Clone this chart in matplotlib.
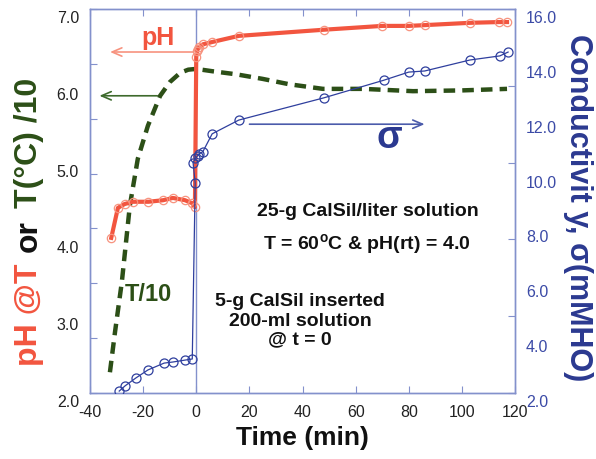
import matplotlib
matplotlib.use("Agg")
import matplotlib.pyplot as plt
import matplotlib.transforms as mtransforms

plt.rcParams['font.family'] = ['Liberation Sans', 'DejaVu Sans']
plt.rcParams['mathtext.fontset'] = 'custom'
plt.rcParams['mathtext.rm'] = 'Liberation Sans:bold'
plt.rcParams['mathtext.bf'] = 'Liberation Sans:bold'

# ---- data ----
ph_time = [-32, -29.5, -27, -24, -18, -12.5, -8.8, -4.2, -1.5, -0.5, 0, 0.3, 0.6, 1, 2.5, 6, 16, 48, 70, 80, 86, 103, 114, 117]
ph_vals = [4.02, 4.41, 4.46, 4.49, 4.49, 4.51, 4.54, 4.51, 4.47, 4.42, 6.38, 6.45, 6.48, 6.50, 6.54, 6.57, 6.65, 6.73, 6.78, 6.78, 6.79, 6.82, 6.83, 6.83]

sig_time = [-29, -26.8, -22.7, -18.2, -12.1, -8.8, -4.2, -1.5, -0.4, -1.2, -0.3, 0.5, 1.2, 2.5, 6, 16, 48, 70.5, 80, 86, 103, 114.3, 117.4]
sig_vals = [2.07, 2.26, 2.55, 2.84, 3.09, 3.13, 3.20, 3.24, 9.66, 10.40, 10.55, 10.65, 10.72, 10.80, 11.45, 11.95, 12.76, 13.40, 13.70, 13.74, 14.14, 14.29, 14.43]

temp_time = [-32.5, -30.6, -28, -25, -22, -18.2, -13.6, -9.9, -6, -3, 0, 6, 15, 25, 35, 47.7, 62.8, 81.6, 100, 117]
temp_vals = [2.27, 2.79, 3.45, 4.44, 5.05, 5.48, 5.87, 6.05, 6.17, 6.21, 6.22, 6.19, 6.15, 6.09, 6.02, 5.96, 5.96, 5.93, 5.94, 5.96]

x_ticks = [-40, -20, 0, 20, 40, 60, 80, 100, 120]
left_ticks = [2.0, 3.0, 4.0, 5.0, 6.0, 7.0]
right_ticks = [2.0, 4.0, 6.0, 8.0, 10.0, 12.0, 14.0, 16.0]

RED = '#f2553f'
RED_LIGHT = '#f7937f'
BLUE = '#2f3f9e'
BLUE_TXT = '#2b3990'
GREEN = '#2c4f17'
SPINE = '#8391cc'

fig = plt.figure(figsize=(5.96, 4.60), dpi=100)
ax = fig.add_axes([90/596, 1-394/460, 425/596, 384/460])
ax2 = ax.twinx()

ax.set_xlim(-40, 120)
ax.set_ylim(2, 7)
ax2.set_ylim(2, 16)

for a in (ax, ax2):
    for s in a.spines.values():
        s.set_color(SPINE)
        s.set_linewidth(1.0)

ax.axvline(0, color=SPINE, lw=1.0, zorder=1)

# T/10 dashed
ax.plot(temp_time, temp_vals, color=GREEN, lw=3.2, ls=(0, (2.6, 1.6)), zorder=2)
# pH
ax.plot(ph_time, ph_vals, color=RED, lw=3.0, marker='o', ms=6, mfc='none',
        mec=RED_LIGHT, mew=0.9, zorder=4)
# conductivity
ax2.plot(sig_time, sig_vals, color=BLUE, lw=0.9, marker='o', ms=6.5, mfc='none',
         mec=BLUE, mew=0.9, zorder=4)

# ticks
ax.set_xticks(x_ticks)
ax.set_xticklabels([str(v) for v in x_ticks], fontsize=11.5, color='#222222')
ax.tick_params(axis='x', direction='in', top=True, bottom=True, length=5, color=SPINE, pad=8)
ax.set_yticks(left_ticks)
ax.set_yticklabels(['%.1f' % v for v in left_ticks], fontsize=11.5, color='#222222')
ax.tick_params(axis='y', direction='in', left=False, right=True, labelleft=True,
               labelright=False, length=5, color=SPINE, pad=8)
ax2.set_yticks(right_ticks)
ax2.set_yticklabels(['%.1f' % v for v in right_ticks], fontsize=11.5, color='#3b4aa6')
ax2.tick_params(axis='y', direction='in', left=True, right=False, labelleft=False,
                labelright=True, length=5, color=SPINE, pad=8)

off = mtransforms.ScaledTranslation(0, -7/100, fig.dpi_scale_trans)
for lab in ax.get_yticklabels() + ax2.get_yticklabels():
    lab.set_transform(lab.get_transform() + off)

ax.set_xlabel('Time (min)', fontsize=19, fontweight='bold', color='#111111', labelpad=4)

# arrows
ax.annotate('', xy=(-33.5, 6.44), xytext=(0, 6.44),
            arrowprops=dict(arrowstyle='->,head_length=0.7,head_width=0.3', color=RED_LIGHT, lw=1.2))
ax.annotate('', xy=(-37.5, 5.87), xytext=(-13.6, 5.87),
            arrowprops=dict(arrowstyle='->,head_length=0.7,head_width=0.3', color='#3d6a2c', lw=1.2))
ax2.annotate('', xy=(87, 11.8), xytext=(19, 11.8),
             arrowprops=dict(arrowstyle='->,head_length=0.7,head_width=0.3', color='#4b5bab', lw=1.2))

ax.text(-14.4, 6.64, 'pH', color=RED, fontsize=18, fontweight='bold', ha='center', va='center')
ax.text(72.6, 5.33, 'σ', color=BLUE_TXT, fontsize=27, fontweight='bold', ha='center', va='center')
ax.text(-18.2, 3.29, 'T/10', color=GREEN, fontsize=17, fontweight='bold', ha='center', va='center')

ax.text(64.7, 4.37, '25-g CalSil/liter solution', fontsize=14, fontweight='bold',
        ha='center', va='center', color='#111111')
ax.text(64.3, 3.94, 'T = 60$^{\\rm o}$C & pH(rt) = 4.0', fontsize=14, fontweight='bold',
        ha='center', va='center', color='#111111')
ax.text(39.1, 2.95, '5-g CalSil inserted\n200-ml solution\n@ t = 0', fontsize=14,
        fontweight='bold', ha='center', va='center', color='#111111', linespacing=1.16,
        multialignment='center')

# left multi-colour y label, laid out piece by piece
pieces = [('pH @T', RED), ('or', '#111111'), ('T(°C) /10', GREEN)]
lab_fs = 23
texts = [fig.text(0, 0, s, rotation=90, color=c, fontsize=lab_fs, fontweight='bold',
                  ha='center', va='center') for s, c in pieces]
fig.canvas.draw()
r = fig.canvas.get_renderer()
gap = 12
lens = [t.get_window_extent(r).height for t in texts]
total = sum(lens) + gap * (len(lens) - 1)
center_px = 460 - 222  # from bottom
start = center_px - total / 2
for t, L in zip(texts, lens):
    t.set_position((29/596, (start + L / 2) / 460))
    start += L + gap

# right y label
fig.text(578/596, 1-208/460, 'Conductivit y, σ(mMHO)', rotation=270, color=BLUE_TXT,
         fontsize=22, fontweight='bold', ha='center', va='center')

fig.savefig('out.png', dpi=100)
